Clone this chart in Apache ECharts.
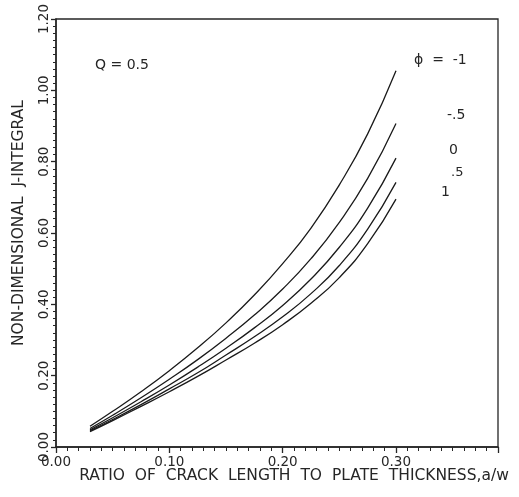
<!DOCTYPE html>
<html>
<head>
<meta charset="utf-8">
<script src="https://cdn.jsdelivr.net/npm/echarts@6/dist/echarts.min.js"></script>
<style>html,body{margin:0;padding:0;background:#fff;}#c{width:519px;height:497px;}</style>
</head>
<body>
<div id="c"></div>
<script>
// crack length ratio a/w
var xValues = [0.03, 0.05, 0.075, 0.10, 0.125, 0.15, 0.175, 0.20, 0.225, 0.25, 0.275, 0.30];
// non-dimensional J-integral for each phi
var phiM1  = [0.058, 0.100, 0.155, 0.214, 0.278, 0.348, 0.426, 0.514, 0.614, 0.735, 0.878, 1.055];
var phiM05 = [0.052, 0.089, 0.138, 0.190, 0.245, 0.305, 0.370, 0.443, 0.528, 0.630, 0.753, 0.907];
var phi0   = [0.048, 0.082, 0.127, 0.174, 0.224, 0.277, 0.334, 0.397, 0.471, 0.560, 0.670, 0.810];
var phiP05 = [0.045, 0.077, 0.119, 0.163, 0.208, 0.258, 0.309, 0.365, 0.430, 0.509, 0.611, 0.742];
var phiP1  = [0.043, 0.074, 0.114, 0.155, 0.198, 0.244, 0.291, 0.343, 0.403, 0.475, 0.570, 0.695];
var seriesNames = ['ϕ = -1', '-.5', '0', '.5', '1'];
var xTickLabels = ['0.00', '0.10', '0.20', '0.30'];
var yTickLabels = ['0.00', '0.20', '0.40', '0.60', '0.80', '1.00', '1.20'];

var allSeries = [phiM1, phiM05, phi0, phiP05, phiP1];
function pairs(ys) { return xValues.map(function (x, i) { return [x, ys[i]]; }); }

var font = 'DejaVu Sans';
var ink = '#262626';
var chart = echarts.init(document.getElementById('c'), null, { renderer: 'canvas' });
chart.setOption({
  animation: false,
  backgroundColor: '#ffffff',
  grid: { left: 56, right: 21, top: 19, bottom: 50, show: true, borderColor: ink, borderWidth: 1.3, backgroundColor: 'transparent' },
  xAxis: {
    type: 'value', min: 0, max: 0.39, interval: 0.1,
    name: 'RATIO  OF  CRACK  LENGTH  TO  PLATE  THICKNESS,a/w',
    nameLocation: 'middle', nameGap: 21, nameMoveOverlap: false,
    nameTextStyle: { fontFamily: font, fontSize: 15.5, color: ink, padding: [0, 0, 0, 34] },
    axisLine: { lineStyle: { color: ink, width: 1.5 } },
    axisTick: { inside: false, length: 6, lineStyle: { color: ink, width: 1.3 } },
    minorTick: { show: true, splitNumber: 10, length: 4, lineStyle: { color: ink, width: 1 } },
    splitLine: { show: false },
    axisLabel: { fontFamily: font, fontSize: 13.5, color: ink, margin: 8, showMaxLabel: false,
      formatter: function (v) { var i = Math.round(v * 10); return xTickLabels[i] !== undefined ? xTickLabels[i] : ''; } }
  },
  yAxis: {
    type: 'value', min: 0, max: 1.2, interval: 0.2,
    name: 'NON-DIMENSIONAL  J-INTEGRAL',
    nameLocation: 'middle', nameGap: 29, nameMoveOverlap: false,
    nameTextStyle: { fontFamily: font, fontSize: 15.5, color: ink, padding: [0, 0, 0, 20] },
    axisLine: { lineStyle: { color: ink, width: 1.5 } },
    axisTick: { inside: false, length: 5, lineStyle: { color: ink, width: 1.3 } },
    minorTick: { show: true, splitNumber: 10, length: 3, lineStyle: { color: ink, width: 1 } },
    splitLine: { show: false },
    axisLabel: { fontFamily: font, fontSize: 13.5, color: ink, rotate: 90, margin: 5,
      formatter: function (v) { var i = Math.round(v * 5); return yTickLabels[i] !== undefined ? yTickLabels[i] : ''; } }
  },
  series: allSeries.map(function (ys, k) {
    return { name: seriesNames[k], type: 'line', data: pairs(ys), smooth: true, showSymbol: false, symbol: 'none',
      lineStyle: { color: '#1a1a1a', width: 1.3 } };
  }),
  graphic: [
    { type: 'text', left: 95, top: 58, style: { text: 'Q = 0.5', font: '14px DejaVu Sans', fill: ink } },
    { type: 'text', left: 414, top: 53, style: { text: 'ϕ  =  -1', font: '14px DejaVu Sans', fill: ink } },
    { type: 'text', left: 447, top: 108, style: { text: '-.5', font: '14px DejaVu Sans', fill: ink } },
    { type: 'text', left: 449, top: 143, style: { text: '0', font: '14px DejaVu Sans', fill: ink } },
    { type: 'text', left: 451, top: 166, style: { text: '.5', font: '13px DejaVu Sans', fill: ink } },
    { type: 'text', left: 441, top: 185, style: { text: '1', font: '14px DejaVu Sans', fill: ink } }
  ]
});
</script>
</body>
</html>
